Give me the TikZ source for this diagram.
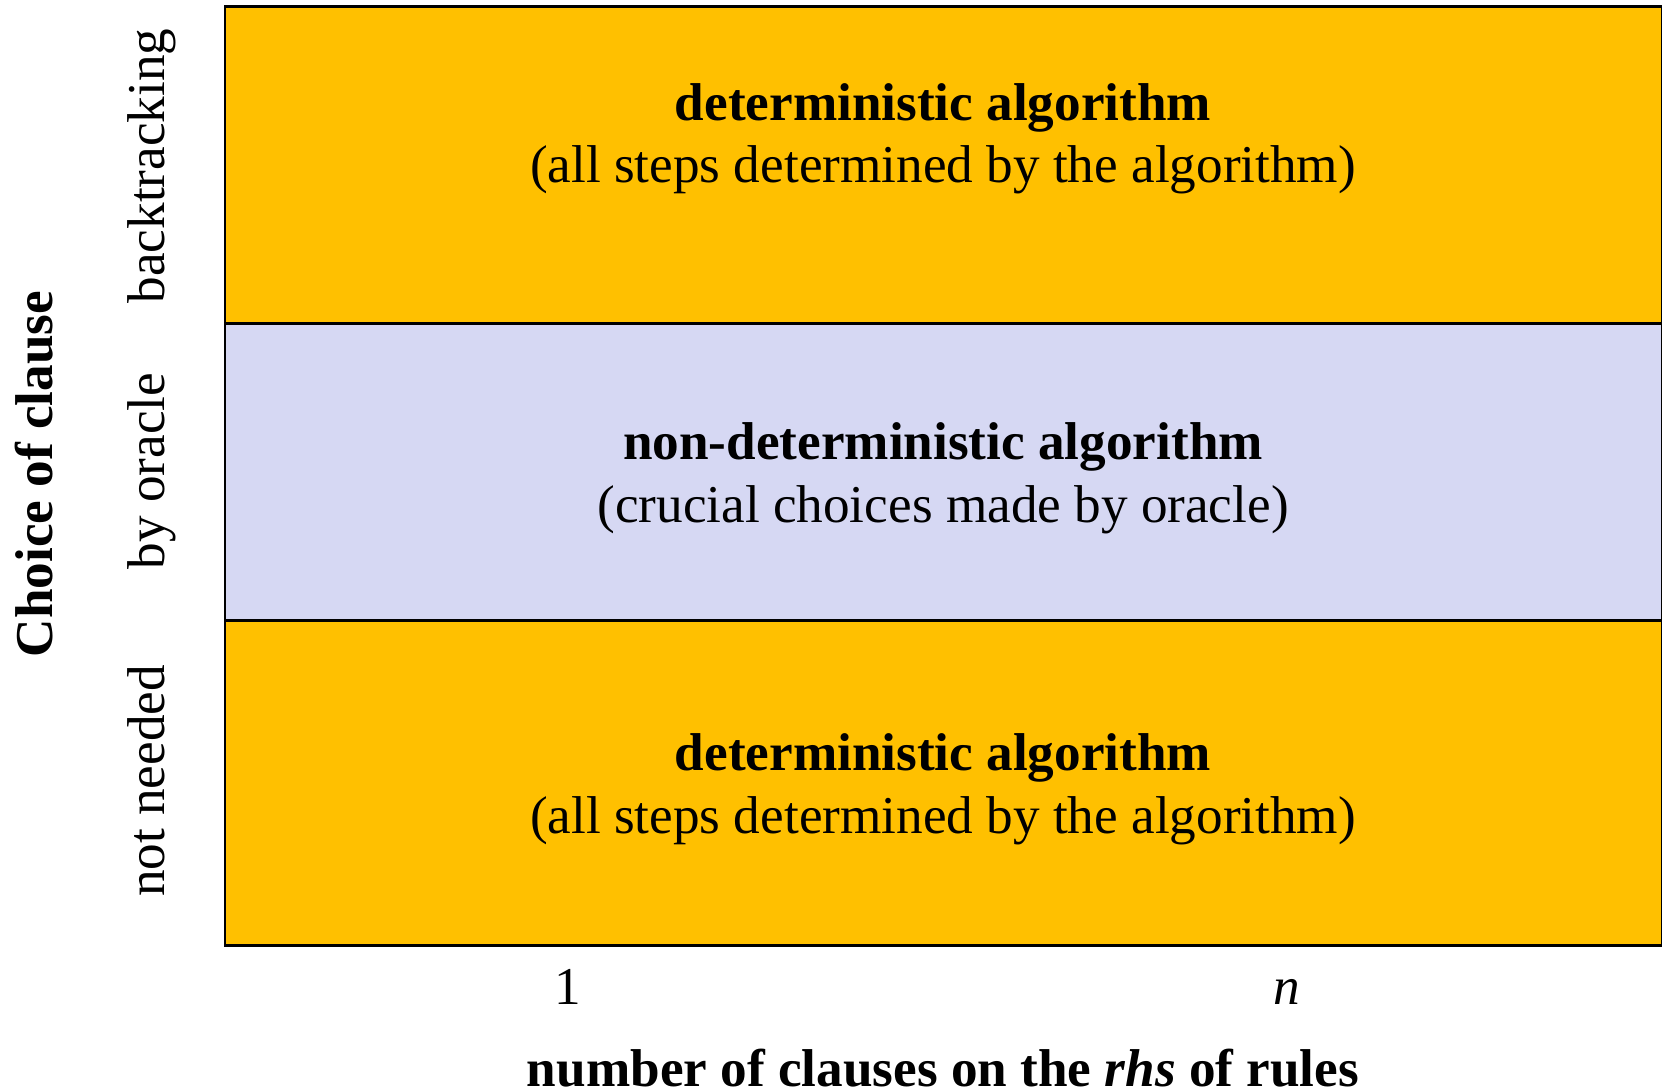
\documentclass[tikz,border=0pt]{standalone}
\usepackage{fontspec}
\setmainfont{Liberation Serif}
\definecolor{bandorange}{RGB}{255,192,0}
\definecolor{bandlav}{RGB}{214,216,243}
\begin{document}
\begin{tikzpicture}[x=0.5pt,y=-0.5pt,
  band/.style={draw=black,line width=1.2pt,inner sep=0pt,anchor=north west,minimum width=718.7pt},
  txt/.style={font=\fontsize{26.6}{31.5}\selectfont,inner sep=0pt,anchor=base},
  side/.style={font=\fontsize{26.6}{31.5}\selectfont,rotate=90,inner sep=0pt,anchor=base}]
\useasboundingbox (0,0) rectangle (1662,1092);
\node[band,fill=bandorange,minimum height=158.5pt] (top) at (223.6,5.3) {};
\node[band,fill=bandlav,minimum height=148.4pt] (mid) at (223.6,322.3) {};
\node[band,fill=bandorange,minimum height=162.5pt] (bot) at (223.6,619.1) {};
\node[txt] (toptitle) at (943,120) {\textbf{deterministic algorithm}};
\node[txt] (topsub) at (943,182.7) {(all steps determined by the algorithm)};
\node[txt] (midtitle) at (943,459) {\textbf{non-deterministic algorithm}};
\node[txt] (midsub) at (943,522) {(crucial choices made by oracle)};
\node[txt] (bottitle) at (943,770) {\textbf{deterministic algorithm}};
\node[txt] (botsub) at (943,833) {(all steps determined by the algorithm)};
\node[side] (lbltop) at (164,166) {backtracking};
\node[side] (lblmid) at (164,471) {by oracle};
\node[side] (lblbot) at (164,781) {not needed};
\node[side] (yaxis) at (53,474) {\textbf{Choice of clause}};
\node[txt] (one) at (568,1004) {1};
\node[txt] (enn) at (1287,1004) {\textit{n}};
\node[txt] (xaxis) at (943,1086) {\textbf{number of clauses on the \textit{rhs} of rules}};
\end{tikzpicture}
\end{document}
